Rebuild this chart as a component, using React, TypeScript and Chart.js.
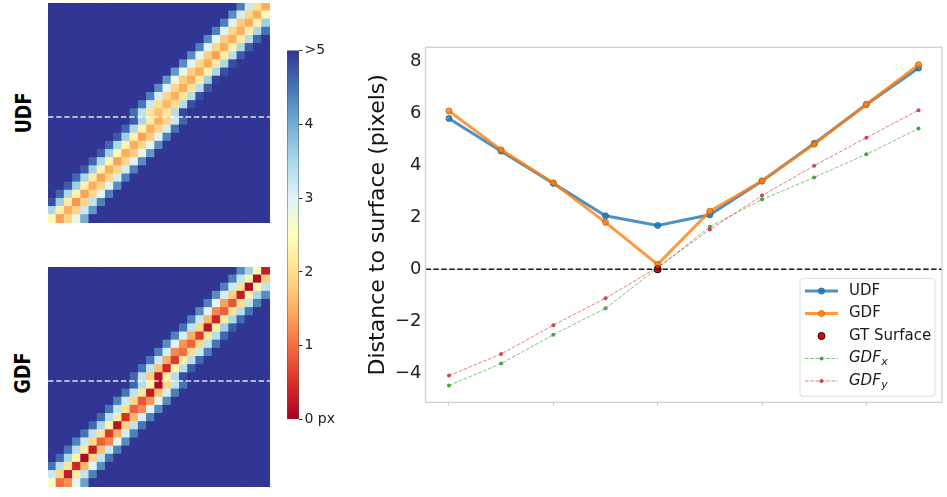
import React, { useEffect, useRef } from 'react';
import { Chart, registerables } from 'chart.js';

Chart.register(...registerables);

const FONT = '"DejaVu Sans", sans-serif';
Chart.defaults.font.family = FONT;

// ---------- heatmap data (27 x 27 grid, values in px, ">5" stored as 6) ----------
const GRID_N = 27;
const CAPPED = 6;
const dashedRowBoundary = 13.5;
// each row: [first column of the band, band values left->right]
const udfRows: number[][] = [
  [23, 4.4, 3.2, 2.0, 1.5],
  [22, 4.3, 3.1, 1.9, 1.5, 2.4],
  [21, 4.4, 3.0, 1.8, 1.5, 2.3, 3.6],
  [20, 4.4, 3.0, 1.9, 1.5, 2.3, 3.5, 4.5],
  [19, 4.3, 2.9, 1.8, 1.5, 2.2, 3.4, 4.6],
  [18, 4.4, 3.0, 1.9, 1.5, 2.3, 3.5, 4.7],
  [17, 4.3, 2.9, 1.8, 1.4, 2.2, 3.4, 4.7],
  [16, 4.3, 3.0, 1.9, 1.5, 2.2, 3.5, 4.8],
  [15, 4.2, 2.9, 1.8, 1.5, 2.3, 3.5, 4.8],
  [14, 4.2, 2.8, 1.8, 1.5, 2.2, 3.6, 4.9],
  [13, 4.3, 3.0, 1.9, 1.5, 2.1, 3.4, 4.7],
  [12, 4.4, 3.1, 1.9, 1.5, 2.1, 3.4, 4.8],
  [11, 4.5, 3.2, 2.0, 1.6, 2.0, 3.4, 4.8],
  [10, 4.55, 3.31, 2.06, 1.69, 2.1, 3.4, 4.85],
  [10, 4.7, 3.5, 2.2, 1.5, 1.9, 3.2, 4.6],
  [9, 4.6, 3.5, 2.3, 1.5, 1.9, 3.1, 4.5],
  [8, 4.7, 3.6, 2.3, 1.4, 1.8, 3.0, 4.4],
  [7, 4.6, 3.5, 2.3, 1.5, 1.9, 3.0, 4.3],
  [6, 4.7, 3.6, 2.4, 1.5, 1.8, 2.9, 4.2],
  [5, 4.6, 3.5, 2.3, 1.4, 1.9, 3.0, 4.3],
  [4, 4.7, 3.6, 2.3, 1.5, 1.9, 3.1, 4.4],
  [3, 4.6, 3.5, 2.2, 1.4, 1.9, 3.1, 4.4],
  [2, 4.7, 3.6, 2.3, 1.5, 1.9, 3.0, 4.3],
  [1, 4.6, 3.5, 2.3, 1.4, 1.9, 3.0, 4.4],
  [0, 4.8, 3.6, 2.2, 1.3, 1.9, 3.3, 4.4],
  [-1, 4.7, 3.5, 2.3, 1.5, 1.9, 3.2, 4.2],
  [-2, 4.8, 3.6, 2.4, 1.4, 1.9, 2.8, 4.0],
];
const gdfRows: number[][] = [
  [23, 4.3, 3.6, 2.4, 0.3],
  [22, 4.4, 3.3, 2.3, 0.1, 1.8],
  [21, 4.4, 3.2, 2.0, 0.1, 2.4, 3.3],
  [20, 4.3, 3.1, 1.8, 0.3, 2.3, 3.5, 4.3],
  [19, 4.4, 3.0, 1.4, 0.8, 2.0, 3.3, 4.4],
  [18, 4.3, 3.0, 1.2, 0.9, 2.1, 3.4, 4.5],
  [17, 4.4, 3.2, 1.6, 0.4, 2.2, 3.5, 4.6],
  [16, 4.5, 3.3, 1.9, 0.2, 2.3, 3.6, 4.7],
  [15, 4.4, 3.1, 1.5, 0.6, 2.1, 3.4, 4.6],
  [14, 4.3, 3.0, 1.3, 0.9, 1.9, 3.3, 4.5],
  [13, 4.4, 3.1, 1.2, 1.0, 2.0, 3.2, 4.4],
  [12, 4.5, 3.2, 1.5, 0.6, 2.2, 3.4, 4.6],
  [11, 4.5, 3.3, 1.7, 0.4, 2.3, 3.4, 4.7],
  [10, 4.6, 3.33, 1.81, 0.19, 2.24, 3.4, 4.82],
  [10, 4.6, 3.4, 2.3, 0.1, 1.9, 3.3, 4.5],
  [9, 4.5, 3.3, 2.1, 0.3, 1.7, 3.1, 4.4],
  [8, 4.4, 3.2, 1.9, 0.8, 1.3, 2.9, 4.3],
  [7, 4.5, 3.3, 2.0, 0.9, 1.2, 3.0, 4.3],
  [6, 4.6, 3.4, 2.2, 0.5, 1.6, 3.1, 4.4],
  [5, 4.6, 3.5, 2.3, 0.2, 1.9, 3.3, 4.5],
  [4, 4.5, 3.3, 2.1, 0.6, 1.5, 3.1, 4.4],
  [3, 4.4, 3.2, 1.9, 0.9, 1.2, 2.9, 4.3],
  [2, 4.5, 3.4, 2.2, 0.3, 1.7, 3.2, 4.4],
  [1, 4.6, 3.5, 2.3, 0.1, 1.9, 3.3, 4.5],
  [0, 4.5, 3.4, 2.1, 0.4, 1.6, 3.0, 4.3],
  [-1, 4.4, 3.2, 1.9, 0.3, 2.2, 3.3, 4.4],
  [-2, 4.4, 3.0, 2.6, 1.0, 1.3, 2.9, 4.1],
];

// ---------- colorbar ----------
const cbarTicks = [0, 1, 2, 3, 4, 5];
const cbarTickLabels = ['0 px', '1', '2', '3', '4', '>5'];
const RDYLBU = ['#a50026', '#d73027', '#f46d43', '#fdae61', '#fee090', '#ffffbf',
  '#e0f3f8', '#abd9e9', '#74add1', '#4575b4', '#313695'];

// ---------- profile along the dashed row ----------
const sampleIdx = [0, 1, 2, 3, 4, 5, 6, 7, 8, 9];
const udfProfile = [5.81, 4.55, 3.31, 2.06, 1.69, 2.1, 3.4, 4.85, 6.35, 7.75];
const gdfProfile = [6.1, 4.6, 3.33, 1.81, 0.19, 2.24, 3.4, 4.82, 6.35, 7.88];
const gdfxProfile = [-4.47, -3.63, -2.52, -1.5, 0.05, 1.64, 2.69, 3.54, 4.43, 5.42];
const gdfyProfile = [-4.09, -3.26, -2.15, -1.11, 0.08, 1.53, 2.84, 3.99, 5.07, 6.13];
const gtSurfaceX = [4];
const gtSurfaceY = [0];
const xTickVals = [0, 2, 4, 6, 8];
const yTickVals = [-4, -2, 0, 2, 4, 6, 8];

function hexRgb(h: string) {
  return [parseInt(h.slice(1, 3), 16), parseInt(h.slice(3, 5), 16), parseInt(h.slice(5, 7), 16)];
}
function cmap(v: number): string {
  const t = Math.max(0, Math.min(1, v / 5)) * 10;
  const i = Math.min(9, Math.floor(t));
  const f = t - i;
  const a = hexRgb(RDYLBU[i]);
  const b = hexRgb(RDYLBU[i + 1]);
  const c = a.map((x, k) => Math.round(x + (b[k] - x) * f));
  return `rgb(${c[0]},${c[1]},${c[2]})`;
}

function Heatmap(props: { rows: number[][]; left: number; top: number; width: number; height: number }) {
  const ref = useRef<HTMLCanvasElement | null>(null);
  useEffect(() => {
    const cells: { x: number; y: number; v: number }[] = [];
    for (let r = 0; r < GRID_N; r++) {
      const [start, ...vals] = props.rows[r];
      for (let c = 0; c < GRID_N; c++) {
        const k = c - start;
        cells.push({ x: c, y: r, v: k >= 0 && k < vals.length ? vals[k] : CAPPED });
      }
    }
    const chart = new Chart(ref.current as HTMLCanvasElement, {
      type: 'scatter',
      data: {
        datasets: [
          {
            data: cells,
            pointStyle: 'rect',
            pointRadius: (ctx: any) => {
              const a = ctx.chart.chartArea;
              const cw = a ? (a.right - a.left) / GRID_N : 8.2;
              return (cw + 1.2) / Math.SQRT2;
            },
            pointBorderWidth: 0,
            pointBackgroundColor: (ctx: any) => (ctx.raw ? cmap(ctx.raw.v) : RDYLBU[10]),
            order: 2,
          } as any,
          {
            data: [{ x: -0.5, y: dashedRowBoundary }, { x: GRID_N - 0.5, y: dashedRowBoundary }],
            showLine: true,
            borderColor: 'rgba(255,255,255,0.85)',
            borderWidth: 1.5,
            borderDash: [5.5, 2.6],
            pointRadius: 0,
            order: 1,
          } as any,
        ],
      },
      options: {
        animation: false,
        responsive: false,
        events: [],
        layout: { padding: 0, autoPadding: false },
        plugins: { legend: { display: false }, tooltip: { enabled: false } },
        scales: {
          x: { type: 'linear', min: -0.5, max: GRID_N - 0.5, display: false },
          y: { type: 'linear', min: -0.5, max: GRID_N - 0.5, reverse: true, display: false },
        },
      } as any,
    });
    return () => chart.destroy();
  }, []);
  return (
    <canvas
      ref={ref}
      width={props.width}
      height={props.height}
      style={{ position: 'absolute', left: props.left, top: props.top, width: props.width, height: props.height }}
    />
  );
}

function ColorBar() {
  const ref = useRef<HTMLCanvasElement | null>(null);
  useEffect(() => {
    const chart = new Chart(ref.current as HTMLCanvasElement, {
      type: 'bar',
      data: {
        labels: ['cbar'],
        datasets: [
          {
            data: [cbarTicks[cbarTicks.length - 1]],
            barPercentage: 1,
            categoryPercentage: 1,
            borderWidth: 0.8,
            borderColor: '#555',
            borderSkipped: false,
            backgroundColor: (ctx: any) => {
              const ch = ctx.chart;
              if (!ch.chartArea) return RDYLBU[10];
              const y0 = ch.scales.y.getPixelForValue(0);
              const y5 = ch.scales.y.getPixelForValue(5);
              const g = ch.ctx.createLinearGradient(0, y0, 0, y5);
              RDYLBU.forEach((c, i) => g.addColorStop(i / 10, c));
              return g;
            },
          } as any,
        ],
      },
      options: {
        animation: false,
        responsive: false,
        events: [],
        layout: { padding: { left: 0, right: 0, top: 9, bottom: 10 }, autoPadding: false },
        plugins: { legend: { display: false }, tooltip: { enabled: false } },
        scales: {
          x: { display: false },
          y: {
            position: 'right',
            min: 0,
            max: 5,
            afterBuildTicks: (s: any) => { s.ticks = cbarTicks.map((v) => ({ value: v })); },
            afterFit: (s: any) => { s.width = 48; },
            ticks: {
              callback: (v: any) => cbarTickLabels[cbarTicks.indexOf(Number(v))],
              font: { size: 14, family: FONT },
              color: '#222',
              padding: 2,
            },
            grid: { display: true, drawOnChartArea: false, drawTicks: true, tickLength: 3.5, color: '#333', lineWidth: 1 },
            border: { display: false },
          } as any,
        },
      } as any,
    });
    return () => chart.destroy();
  }, []);
  return (
    <canvas ref={ref} width={60} height={390}
      style={{ position: 'absolute', left: 287, top: 40, width: 60, height: 390 }} />
  );
}

const UDF_C = 'rgba(31,119,180,0.8)';
const GDF_C = 'rgba(255,127,14,0.8)';
const GX_C = 'rgba(44,160,44,0.6)';
const GY_C = 'rgba(214,39,40,0.6)';

const framePlugin = {
  id: 'frame',
  afterDatasetsDraw(chart: any) {
    const { ctx, chartArea: a } = chart;
    ctx.save();
    ctx.strokeStyle = '#cfcfcf';
    ctx.lineWidth = 1.3;
    ctx.strokeRect(a.left, a.top, a.right - a.left, a.bottom - a.top);
    ctx.restore();
  },
};

const legendItems = [
  { label: 'UDF', sub: '', italic: false, color: UDF_C, width: 3, dash: [] as number[], mk: 3, mkFill: UDF_C, mkStroke: 'rgba(31,100,160,0.9)', line: true },
  { label: 'GDF', sub: '', italic: false, color: GDF_C, width: 3, dash: [], mk: 3, mkFill: GDF_C, mkStroke: 'rgba(200,100,10,0.9)', line: true },
  { label: 'GT Surface', sub: '', italic: false, color: '', width: 0, dash: [], mk: 3.5, mkFill: '#ee0000', mkStroke: '#000', line: false },
  { label: 'GDF', sub: 'x', italic: true, color: GX_C, width: 1, dash: [3.7, 1.6], mk: 2, mkFill: 'rgba(44,150,44,0.85)', mkStroke: '', line: true },
  { label: 'GDF', sub: 'y', italic: true, color: GY_C, width: 1, dash: [3.7, 1.6], mk: 2, mkFill: 'rgba(200,40,50,0.85)', mkStroke: '', line: true },
];

const legendPlugin = {
  id: 'boxLegend',
  afterDraw(chart: any) {
    const { ctx, chartArea: a } = chart;
    const w = 135, h = 118;
    const left = a.right - 7 - w;
    const top = a.bottom - 6 - h;
    ctx.save();
    ctx.beginPath();
    (ctx as any).roundRect(left, top, w, h, 3);
    ctx.fillStyle = 'rgba(255,255,255,0.85)';
    ctx.fill();
    ctx.strokeStyle = 'rgba(215,215,215,0.9)';
    ctx.lineWidth = 1;
    ctx.stroke();
    legendItems.forEach((it, i) => {
      const y = top + 12.7 + i * 22.5;
      const x0 = left + 5, x1 = left + 38, xm = (x0 + x1) / 2;
      if (it.line) {
        ctx.beginPath();
        ctx.setLineDash(it.dash);
        ctx.strokeStyle = it.color;
        ctx.lineWidth = it.width;
        ctx.moveTo(x0, y);
        ctx.lineTo(x1, y);
        ctx.stroke();
        ctx.setLineDash([]);
      }
      ctx.beginPath();
      ctx.arc(xm, y, it.mk, 0, Math.PI * 2);
      ctx.fillStyle = it.mkFill;
      ctx.fill();
      if (it.mkStroke) {
        ctx.strokeStyle = it.mkStroke;
        ctx.lineWidth = 1;
        ctx.stroke();
      }
      const tx = left + 49;
      ctx.fillStyle = '#1a1a1a';
      ctx.textBaseline = 'middle';
      ctx.textAlign = 'left';
      ctx.font = `${it.italic ? 'italic ' : ''}15px ${FONT}`;
      ctx.fillText(it.label, tx, y);
      if (it.sub) {
        const tw = ctx.measureText(it.label).width;
        ctx.font = `italic 11px ${FONT}`;
        ctx.fillText(it.sub, tx + tw + 0.5, y + 4);
      }
    });
    ctx.restore();
  },
};

const fmtTick = (v: number) => (v < 0 ? '\u2212' + Math.abs(v) : String(v));
const pts = (ys: number[]) => sampleIdx.map((x, i) => ({ x, y: ys[i] }));

function ProfileChart() {
  const ref = useRef<HTMLCanvasElement | null>(null);
  useEffect(() => {
    const chart = new Chart(ref.current as HTMLCanvasElement, {
      type: 'line',
      data: {
        datasets: [
          {
            label: 'zero', data: [{ x: -0.45, y: 0 }, { x: 9.45, y: 0 }],
            borderColor: '#1a1a1a', borderWidth: 1.5, borderDash: [5.5, 2.4], pointRadius: 0, order: 0,
          },
          {
            label: 'UDF', data: pts(udfProfile), borderColor: UDF_C, borderWidth: 3,
            pointRadius: 3, pointBackgroundColor: UDF_C, pointBorderColor: 'rgba(31,100,160,0.9)', pointBorderWidth: 1, order: 5,
          },
          {
            label: 'GDF', data: pts(gdfProfile), borderColor: GDF_C, borderWidth: 3,
            pointRadius: 3, pointBackgroundColor: GDF_C, pointBorderColor: 'rgba(200,100,10,0.9)', pointBorderWidth: 1, order: 4,
          },
          {
            label: 'GT Surface', data: gtSurfaceX.map((x, i) => ({ x, y: gtSurfaceY[i] })), showLine: false,
            pointRadius: 3.5, pointBackgroundColor: '#ee0000', pointBorderColor: '#000', pointBorderWidth: 1, order: 3,
          },
          {
            label: 'GDF_x', data: pts(gdfxProfile), borderColor: GX_C, borderWidth: 1, borderDash: [3.7, 1.6],
            pointRadius: 2, pointBackgroundColor: 'rgba(44,150,44,0.85)', pointBorderWidth: 0, order: 2,
          },
          {
            label: 'GDF_y', data: pts(gdfyProfile), borderColor: GY_C, borderWidth: 1, borderDash: [3.7, 1.6],
            pointRadius: 2, pointBackgroundColor: 'rgba(200,40,50,0.85)', pointBorderWidth: 0, order: 1,
          },
        ] as any,
      },
      options: {
        animation: false,
        responsive: false,
        events: [],
        layout: { padding: { left: 0, right: 5, top: 47.3, bottom: 86.7 }, autoPadding: false },
        plugins: { legend: { display: false }, tooltip: { enabled: false } },
        scales: {
          x: {
            type: 'linear', min: -0.45, max: 9.45,
            afterBuildTicks: (s: any) => { s.ticks = xTickVals.map((v) => ({ value: v })); },
            afterFit: (s: any) => { s.height = 8; },
            ticks: { callback: () => '', autoSkip: false },
            grid: { display: true, drawOnChartArea: false, drawTicks: true, tickLength: 3.5, color: '#c8c8c8', lineWidth: 1 },
            border: { display: false },
          } as any,
          y: {
            type: 'linear', min: -5.12, max: 8.55,
            afterBuildTicks: (s: any) => { s.ticks = yTickVals.map((v) => ({ value: v })); },
            afterFit: (s: any) => { s.width = 80.5; },
            ticks: { callback: (v: any) => fmtTick(Number(v)), font: { size: 18, family: FONT }, color: '#222', padding: 4 },
            grid: { display: false, drawTicks: false },
            border: { display: false },
            title: {
              display: true, text: 'Distance to surface (pixels)',
              font: { size: 22, family: FONT }, color: '#111', padding: { top: 20, bottom: 0 },
            },
          } as any,
        },
      } as any,
      plugins: [framePlugin, legendPlugin],
    });
    return () => chart.destroy();
  }, []);
  return (
    <canvas ref={ref} width={602} height={497}
      style={{ position: 'absolute', left: 345, top: 0, width: 602, height: 497 }} />
  );
}

const sideLabel = (text: string, cx: number, cy: number) => (
  <div
    style={{
      position: 'absolute', left: cx, top: cy, transform: 'translate(-50%, -50%) rotate(-90deg) scale(1, 1.2)',
      font: `bold 17.5px ${FONT}`, color: '#000', whiteSpace: 'nowrap', lineHeight: 1,
    }}
  >
    {text}
  </div>
);

export default function App() {
  return (
    <div style={{ position: 'fixed', left: 0, top: 0, width: 947, height: 497, background: '#fff', overflow: 'hidden' }}>
      {sideLabel('UDF', 24.5, 113.3)}
      {sideLabel('GDF', 24, 372.8)}
      <Heatmap rows={udfRows} left={48} top={3} width={222} height={220} />
      <Heatmap rows={gdfRows} left={48} top={267} width={222} height={220} />
      <ColorBar />
      <ProfileChart />
    </div>
  );
}
